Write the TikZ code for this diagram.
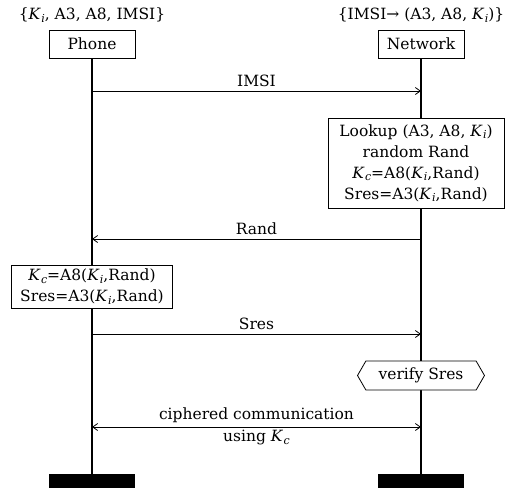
\documentclass[tikz,border=0pt]{standalone}
\usepackage{fontspec}
\setmainfont{DejaVu Serif}
\usetikzlibrary{arrows.meta,shapes.symbols}
\newcommand\diagfont{\fontsize{15.5}{21}\selectfont}
% italic K with a lowered italic index
\newcommand\Kx[1]{\textit{K}\kern0.3pt\raisebox{-0.3ex}{\fontsize{11}{11}\selectfont\itshape #1}}
\tikzset{
  actor/.style={draw,line width=0.8pt,minimum width=86pt,minimum height=28pt,inner sep=0pt,font=\diagfont},
  hdr/.style={font=\diagfont,inner sep=0pt},
  calc/.style={draw,line width=0.8pt,fill=white,align=center,inner xsep=2pt,inner ysep=3pt,font=\diagfont},
  lbl/.style={font=\diagfont,inner sep=0pt},
  life/.style={line width=1.6pt},
  msg/.style={line width=0.8pt,-{Straight Barb[length=5pt,width=7pt]}},
  bar/.style={fill=black,minimum width=86pt,minimum height=14pt,inner sep=0pt},
}
\begin{document}
\begin{tikzpicture}[x=1pt,y=-1pt]
\useasboundingbox (0,0) rectangle (509,488);
% participants
\node[actor] (phone) at (92,44) {Phone};
\node[actor] (net) at (421,44) {Network};
\node[hdr] (phonekeys) at (92,15) {\{\Kx{i}, A3, A8, IMSI\}};
\node[hdr] (netkeys) at (421,15) {\{IMSI→ (A3, A8, \Kx{i})\}};
% lifeline ends
\node[bar] (phoneend) at (92,481) {};
\node[bar] (netend) at (421,481) {};
\draw[life] (phone.south) -- (phoneend.north);
\draw[life] (net.south) -- (netend.north);
% message anchors
\coordinate (p1) at (92,91);  \coordinate (n1) at (421,91);
\coordinate (p2) at (92,239); \coordinate (n2) at (421,239);
\coordinate (p3) at (92,334); \coordinate (n3) at (421,334);
\coordinate (p4) at (92,427); \coordinate (n4) at (421,427);
% IMSI
\draw[msg] (p1) -- node[lbl,above=4pt] (imsi) {IMSI} (n1);
% network computation
\node[calc,minimum width=176pt,minimum height=90pt] (lookup) at (416,163)
  {Lookup (A3, A8, \Kx{i})\\ random Rand\\ \Kx{c}=A8(\Kx{i},Rand)\\ Sres=A3(\Kx{i},Rand)};
% Rand
\draw[msg] (n2) -- node[lbl,above=4pt] (rand) {Rand} (p2);
% phone computation
\node[calc,minimum width=161pt,minimum height=43pt] (kc) at (92,286.5)
  {\Kx{c}=A8(\Kx{i},Rand)\\ Sres=A3(\Kx{i},Rand)};
% Sres
\draw[msg] (p3) -- node[lbl,above=4pt] (sres) {Sres} (n3);
% verification
\node[draw,line width=0.8pt,fill=white,shape=signal,signal to=east and west,signal pointer angle=120,
  minimum width=127pt,minimum height=29pt,inner sep=2pt,font=\diagfont] (verify) at (421,375.5) {verify Sres};
% ciphered channel
\draw[line width=0.8pt,{Straight Barb[length=5pt,width=7pt]}-{Straight Barb[length=5pt,width=7pt]}] (p4) --
  node[lbl,above=4pt] (ciph) {ciphered communication}
  node[lbl,below=3pt] (using) {using \Kx{c}} (n4);
\end{tikzpicture}
\end{document}
